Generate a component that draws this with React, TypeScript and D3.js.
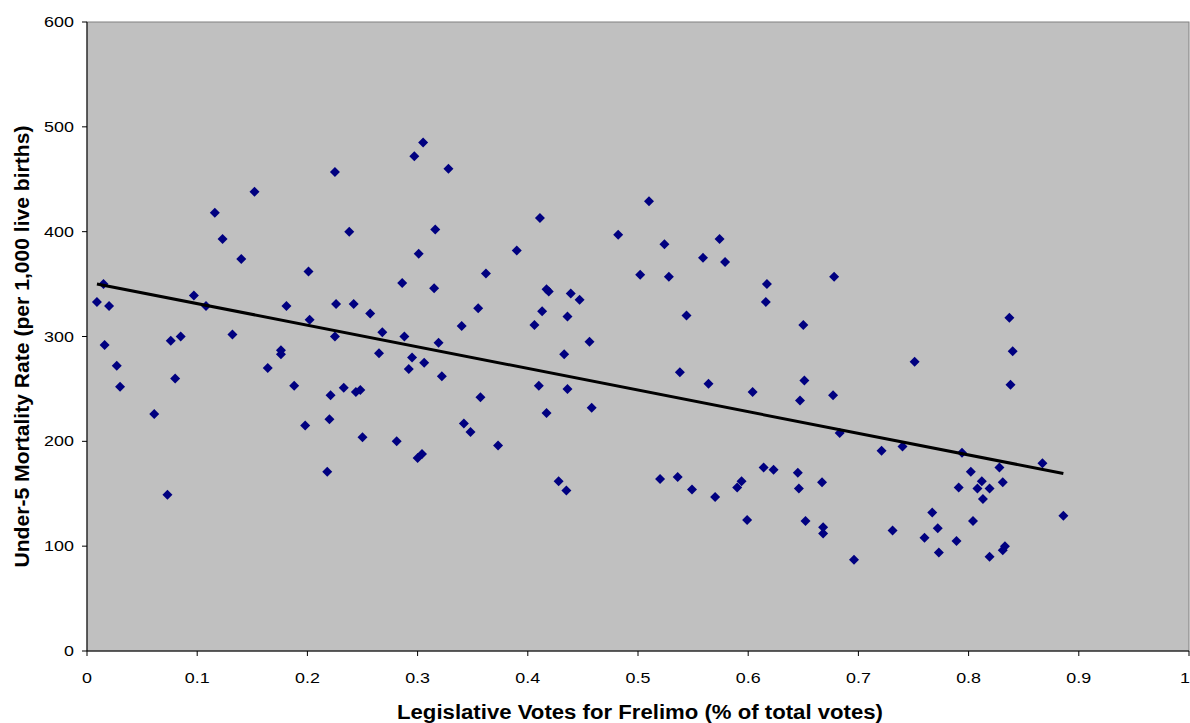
import React from 'react';
import * as d3 from 'd3';

// share of legislative votes for Frelimo (0-1) per district
const votes = [
  0.009, 0.015, 0.020, 0.016, 0.027, 0.030, 0.061, 0.073, 0.076, 0.085,
  0.080, 0.097, 0.108, 0.116, 0.123, 0.140, 0.152, 0.132, 0.164, 0.176,
  0.176, 0.181, 0.201, 0.202, 0.188, 0.198, 0.218, 0.220, 0.221, 0.225,
  0.225, 0.226, 0.233, 0.238, 0.242, 0.244, 0.248, 0.250, 0.257, 0.265,
  0.268, 0.281, 0.286, 0.288, 0.292, 0.295, 0.297, 0.300, 0.301, 0.304,
  0.305, 0.306, 0.315, 0.316, 0.319, 0.322, 0.328, 0.340, 0.342, 0.348,
  0.355, 0.357, 0.362, 0.373, 0.390, 0.406, 0.410, 0.411, 0.413, 0.417,
  0.419, 0.417, 0.428, 0.433, 0.435, 0.436, 0.436, 0.439, 0.447, 0.456,
  0.458, 0.482, 0.502, 0.510, 0.520, 0.524, 0.528, 0.536, 0.538, 0.544,
  0.549, 0.559, 0.564, 0.570, 0.574, 0.579, 0.590, 0.594, 0.599, 0.604,
  0.614, 0.616, 0.617, 0.623, 0.645, 0.646, 0.647, 0.650, 0.651, 0.652,
  0.667, 0.668, 0.668, 0.677, 0.678, 0.683, 0.696, 0.721, 0.731, 0.740,
  0.751, 0.760, 0.767, 0.772, 0.773, 0.789, 0.791, 0.794, 0.802, 0.804,
  0.808, 0.812, 0.813, 0.819, 0.819, 0.828, 0.831, 0.831, 0.833, 0.837,
  0.838, 0.840, 0.867, 0.886,
];

// under-5 mortality per 1,000 live births, same order
const mortality = [
  333, 350, 329, 292, 272, 252, 226, 149, 296, 300,
  260, 339, 329, 418, 393, 374, 438, 302, 270, 287,
  283, 329, 362, 316, 253, 215, 171, 221, 244, 300,
  457, 331, 251, 400, 331, 247, 249, 204, 322, 284,
  304, 200, 351, 300, 269, 280, 472, 184, 379, 188,
  485, 275, 346, 402, 294, 262, 460, 310, 217, 209,
  327, 242, 360, 196, 382, 311, 253, 413, 324, 345,
  343, 227, 162, 283, 153, 319, 250, 341, 335, 295,
  232, 397, 359, 429, 164, 388, 357, 166, 266, 320,
  154, 375, 255, 147, 393, 371, 156, 162, 125, 247,
  175, 333, 350, 173, 170, 155, 239, 311, 258, 124,
  161, 118, 112, 244, 357, 208, 87, 191, 115, 195,
  276, 108, 132, 117, 94, 105, 156, 189, 171, 124,
  155, 162, 145, 155, 90, 175, 161, 96, 100, 318,
  254, 286, 179, 129,
];

const xTicks = [0, 0.1, 0.2, 0.3, 0.4, 0.5, 0.6, 0.7, 0.8, 0.9, 1];
const yTicks = [0, 100, 200, 300, 400, 500, 600];

const W = 1190;
const H = 723;
const left = 87;
const right = 1189;
const top = 22;
const bottom = 651;

const App = () => {
  const x = d3.scaleLinear().domain([0, 1]).range([left, right]);
  const y = d3.scaleLinear().domain([0, 600]).range([bottom, top]);

  const points = votes.map((v, i) => ({ v, m: mortality[i] }));

  // linear least-squares trend line, drawn over the range of the data
  const mx = d3.mean(votes) as number;
  const my = d3.mean(mortality) as number;
  let sxy = 0;
  let sxx = 0;
  points.forEach(p => {
    sxy += (p.v - mx) * (p.m - my);
    sxx += (p.v - mx) * (p.v - mx);
  });
  const slope = sxy / sxx;
  const icpt = my - slope * mx;
  const [x0, x1] = d3.extent(votes) as [number, number];
  const trend = d3.line<number>()
    .x(d => x(d))
    .y(d => y(icpt + slope * d))([x0, x1]);

  const diamond = d3.symbol(d3.symbolSquare, 50)() as string;
  const fmt = d3.format('~g');

  return (
    <svg
      width={W}
      height={H}
      style={{ position: 'absolute', left: 0, top: 0, fontFamily: '"Liberation Sans", Arial, sans-serif' }}
    >
      <rect x={0} y={0} width={W} height={H} fill="#fff" />
      <rect x={left} y={top} width={right - left} height={bottom - top} fill="#c0c0c0" stroke="#808080" strokeWidth={1} />

      {points.map((p, i) => (
        <path
          key={i}
          d={diamond}
          transform={`translate(${x(p.v)},${y(p.m)}) rotate(45)`}
          fill="#000080"
        />
      ))}

      <path d={trend as string} stroke="#000" strokeWidth={3} fill="none" />

      {/* axes */}
      <line x1={left} x2={left} y1={top} y2={bottom} stroke="#000" />
      <line x1={left} x2={right} y1={bottom} y2={bottom} stroke="#000" />

      {yTicks.map(t => (
        <g key={t} transform={`translate(0,${y(t)})`}>
          <line x1={left - 5} x2={left} stroke="#000" />
          <g transform={`translate(${left - 13},0) scale(1.28,1)`}>
            <text dy="0.36em" textAnchor="end" fontSize={14}>{t}</text>
          </g>
        </g>
      ))}

      {xTicks.map((t, i) => (
        <g key={t} transform={`translate(${x(t)},0)`}>
          <line y1={bottom} y2={bottom + 5} stroke="#000" />
          <g transform={`translate(${i === xTicks.length - 1 ? 1 : 0},${bottom + 32}) scale(1.28,1)`}>
            <text textAnchor={i === xTicks.length - 1 ? 'end' : 'middle'} fontSize={14}>{fmt(t)}</text>
          </g>
        </g>
      ))}

      <text
        x={640}
        y={719}
        textAnchor="middle"
        fontSize={20}
        fontWeight="bold"
        textLength={486}
        lengthAdjust="spacingAndGlyphs"
      >
        Legislative Votes for Frelimo (% of total votes)
      </text>
      <text
        transform={`translate(29,${(top + bottom) / 2 + 10}) rotate(-90)`}
        textAnchor="middle"
        fontSize={20}
        fontWeight="bold"
        textLength={442}
        lengthAdjust="spacingAndGlyphs"
      >
        Under-5 Mortality Rate (per 1,000 live births)
      </text>
    </svg>
  );
};

export default App;
